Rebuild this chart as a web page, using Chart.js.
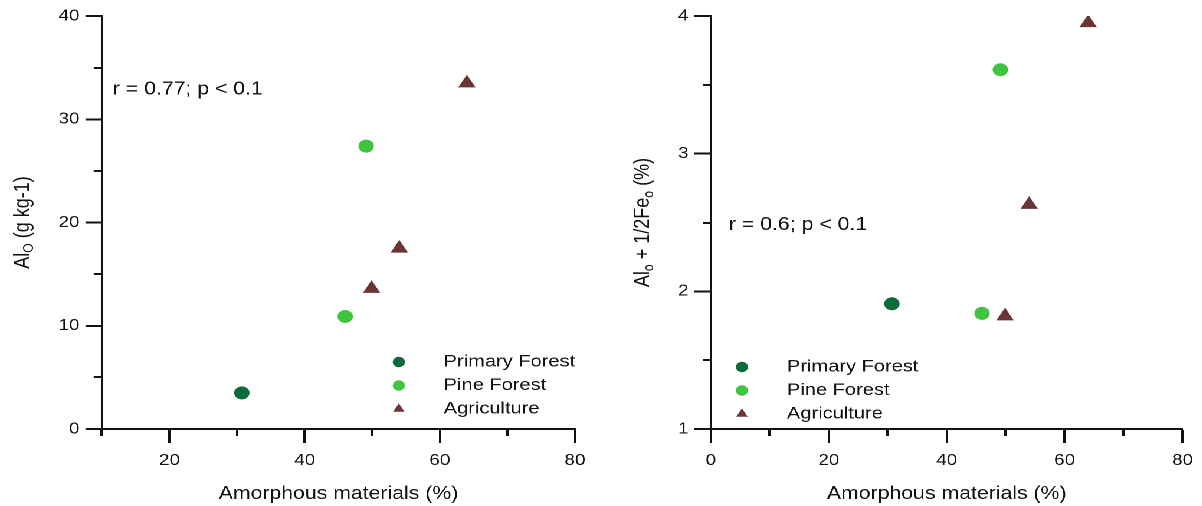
<!DOCTYPE html>
<html>
<head>
<meta charset="utf-8">
<script src="https://cdn.jsdelivr.net/npm/chart.js@4.4.1/dist/chart.umd.min.js"></script>
<style>
  html, body { margin: 0; padding: 0; background: #fff; overflow: hidden; }
  /* the figure is laid out narrow and then widened, like the original scan */
  #figure {
    position: absolute; left: 0; top: 0;
    width: 1019px; height: 506px;
    transform: scaleX(1.18); transform-origin: 0 0;
    display: flex;
  }
  canvas { display: block; }
</style>
</head>
<body>
<div id="figure">
  <canvas id="aloChart" width="509" height="506"></canvas>
  <canvas id="alfeChart" width="510" height="506"></canvas>
</div>

<script>
const groups = ['Primary Forest', 'Pine Forest', 'Agriculture'];
const groupColors = ['#0d6a39', '#3ec43e', '#6b3535'];
const groupShapes = ['circle', 'circle', 'triangle'];

// amorphous materials (%), same sites in both panels
const amorphousPrimary = [30.7];
const amorphousPine = [46.0, 49.1];
const amorphousAgri = [49.9, 54.0, 64.0];

// Al_o (g kg-1)
const aloPrimary = [3.5];
const aloPine = [10.9, 27.4];
const aloAgri = [13.6, 17.5, 33.5];

// Al_o + 1/2 Fe_o (%)
const alfePrimary = [1.91];
const alfePine = [1.84, 3.61];
const alfeAgri = [1.82, 2.63, 3.95];

// labelled ticks; the others get short unlabelled marks
const aloXTicks = [20, 40, 60, 80];
const aloYTicks = [0, 10, 20, 30, 40];
const alfeXTicks = [0, 20, 40, 60, 80];
const alfeYTicks = [1, 2, 3, 4];

const FONT = "'Liberation Sans', Arial, sans-serif";
const INK = '#111';
Chart.defaults.font.family = FONT;
Chart.defaults.color = INK;

function toPoints(xs, ys) {
  return xs.map((x, i) => ({ x: x, y: ys[i] }));
}

// draws text pieces in a row, with smaller lowered pieces for subscripts
function richText(ctx, parts, size) {
  let w = 0;
  parts.forEach(p => {
    ctx.font = (p.sub ? size * 0.68 : size) + 'px ' + FONT;
    p.w = ctx.measureText(p.t).width;
    w += p.w;
  });
  let x = -w / 2;
  parts.forEach(p => {
    ctx.font = (p.sub ? size * 0.68 : size) + 'px ' + FONT;
    ctx.fillText(p.t, x, p.sub ? size * 0.28 : 0);
    x += p.w;
  });
}

function makePanel(id, p) {
  const datasets = p.series.map((s, i) => ({
    label: groups[i],
    data: toPoints(s[0], s[1]),
    pointStyle: groupShapes[i],
    pointRadius: groupShapes[i] === 'triangle' ? 7.5 : 6,
    backgroundColor: groupColors[i],
    borderColor: groupColors[i],
    pointBorderWidth: 1,
    showLine: false
  }));

  const axis = (labels, min, max, step, isX) => ({
    type: 'linear',
    min: min,
    max: max,
    ticks: {
      stepSize: step,
      autoSkip: false,
      maxRotation: 0,
      padding: isX ? 8 : 5,
      color: INK,
      font: { size: 16 },
      callback: v => labels.includes(v) ? String(v) : ''
    },
    grid: {
      drawOnChartArea: false,
      drawTicks: true,
      tickLength: 14,
      tickWidth: 2,
      tickColor: c => labels.includes(c.tick.value) ? '#111' : 'rgba(0,0,0,0)'
    },
    border: { display: true, color: '#111', width: 2 },
    title: isX ? {
      display: true,
      text: 'Amorphous materials (%)',
      color: INK,
      font: { size: 18 },
      padding: { top: 0, bottom: 1 }
    } : { display: false },
    afterFit: isX ? (s => { s.height = 77; }) : (s => { s.width = p.areaLeft; })
  });

  const decor = {
    id: 'decor',
    afterDraw(chart) {
      const ctx = chart.ctx;
      const xs = chart.scales.x, ys = chart.scales.y;
      ctx.save();
      ctx.strokeStyle = '#111';
      ctx.lineWidth = 2;
      ctx.beginPath();
      xs.ticks.forEach(t => {
        if (p.xLabels.includes(t.value)) return;
        const px = Math.round(xs.getPixelForValue(t.value));
        ctx.moveTo(px, ys.bottom);
        ctx.lineTo(px, ys.bottom + 7);
      });
      ys.ticks.forEach(t => {
        if (p.yLabels.includes(t.value)) return;
        const py = Math.round(ys.getPixelForValue(t.value));
        ctx.moveTo(xs.left, py);
        ctx.lineTo(xs.left - 7, py);
      });
      ctx.stroke();

      // y axis title, rotated
      ctx.fillStyle = INK;
      ctx.textBaseline = 'middle';
      ctx.textAlign = 'left';
      ctx.save();
      ctx.translate(p.yTitleX, (ys.top + ys.bottom) / 2);
      ctx.rotate(-Math.PI / 2);
      richText(ctx, p.yTitle, 18);
      ctx.restore();

      // correlation note
      ctx.font = '18px ' + FONT;
      ctx.fillText(p.note, xs.getPixelForValue(p.noteAt[0]), ys.getPixelForValue(p.noteAt[1]));

      // legend
      ctx.font = '17px ' + FONT;
      groups.forEach((g, i) => {
        const y = p.legendTop + i * 23.5;
        ctx.fillStyle = groupColors[i];
        Chart.helpers.drawPoint(ctx, {
          pointStyle: groupShapes[i],
          radius: groupShapes[i] === 'triangle' ? 5.6 : 5.2,
          rotation: 0,
          borderWidth: 0
        }, p.legendX, y);
        ctx.fillStyle = INK;
        ctx.fillText(g, p.legendTextX, y);
      });
      ctx.restore();
    }
  };

  return new Chart(document.getElementById(id), {
    type: 'scatter',
    data: { datasets: datasets },
    options: {
      responsive: false,
      devicePixelRatio: 2,
      animation: false,
      layout: { padding: { left: 0, right: p.padRight, top: 16, bottom: 0 } },
      plugins: { legend: { display: false }, tooltip: { enabled: false } },
      scales: {
        x: axis(p.xLabels, p.xMin, p.xMax, 10, true),
        y: axis(p.yLabels, p.yMin, p.yMax, p.yStep, false)
      }
    },
    plugins: [decor]
  });
}

makePanel('aloChart', {
  series: [[amorphousPrimary, aloPrimary], [amorphousPine, aloPine], [amorphousAgri, aloAgri]],
  xMin: 10, xMax: 80, yMin: 0, yMax: 40, yStep: 5,
  xLabels: aloXTicks, yLabels: aloYTicks,
  areaLeft: 86.4, padRight: 21.7,
  yTitleX: 19.5,
  yTitle: [{ t: 'Al' }, { t: 'O', sub: true }, { t: ' (g kg-1)' }],
  note: 'r = 0.77; p < 0.1', noteAt: [11.6, 32.9],
  legendX: 338, legendTextX: 376, legendTop: 362
});

makePanel('alfeChart', {
  series: [[amorphousPrimary, alfePrimary], [amorphousPine, alfePine], [amorphousAgri, alfeAgri]],
  xMin: 0, xMax: 80, yMin: 1, yMax: 4, yStep: 0.5,
  xLabels: alfeXTicks, yLabels: alfeYTicks,
  areaLeft: 93.5, padRight: 16.5,
  yTitleX: 36,
  yTitle: [{ t: 'Al' }, { t: 'o', sub: true }, { t: ' + 1/2Fe' }, { t: 'o', sub: true }, { t: ' (%)' }],
  note: 'r = 0.6; p < 0.1', noteAt: [3.06, 2.48],
  legendX: 119.8, legendTextX: 157.9, legendTop: 367
});
</script>
</body>
</html>
